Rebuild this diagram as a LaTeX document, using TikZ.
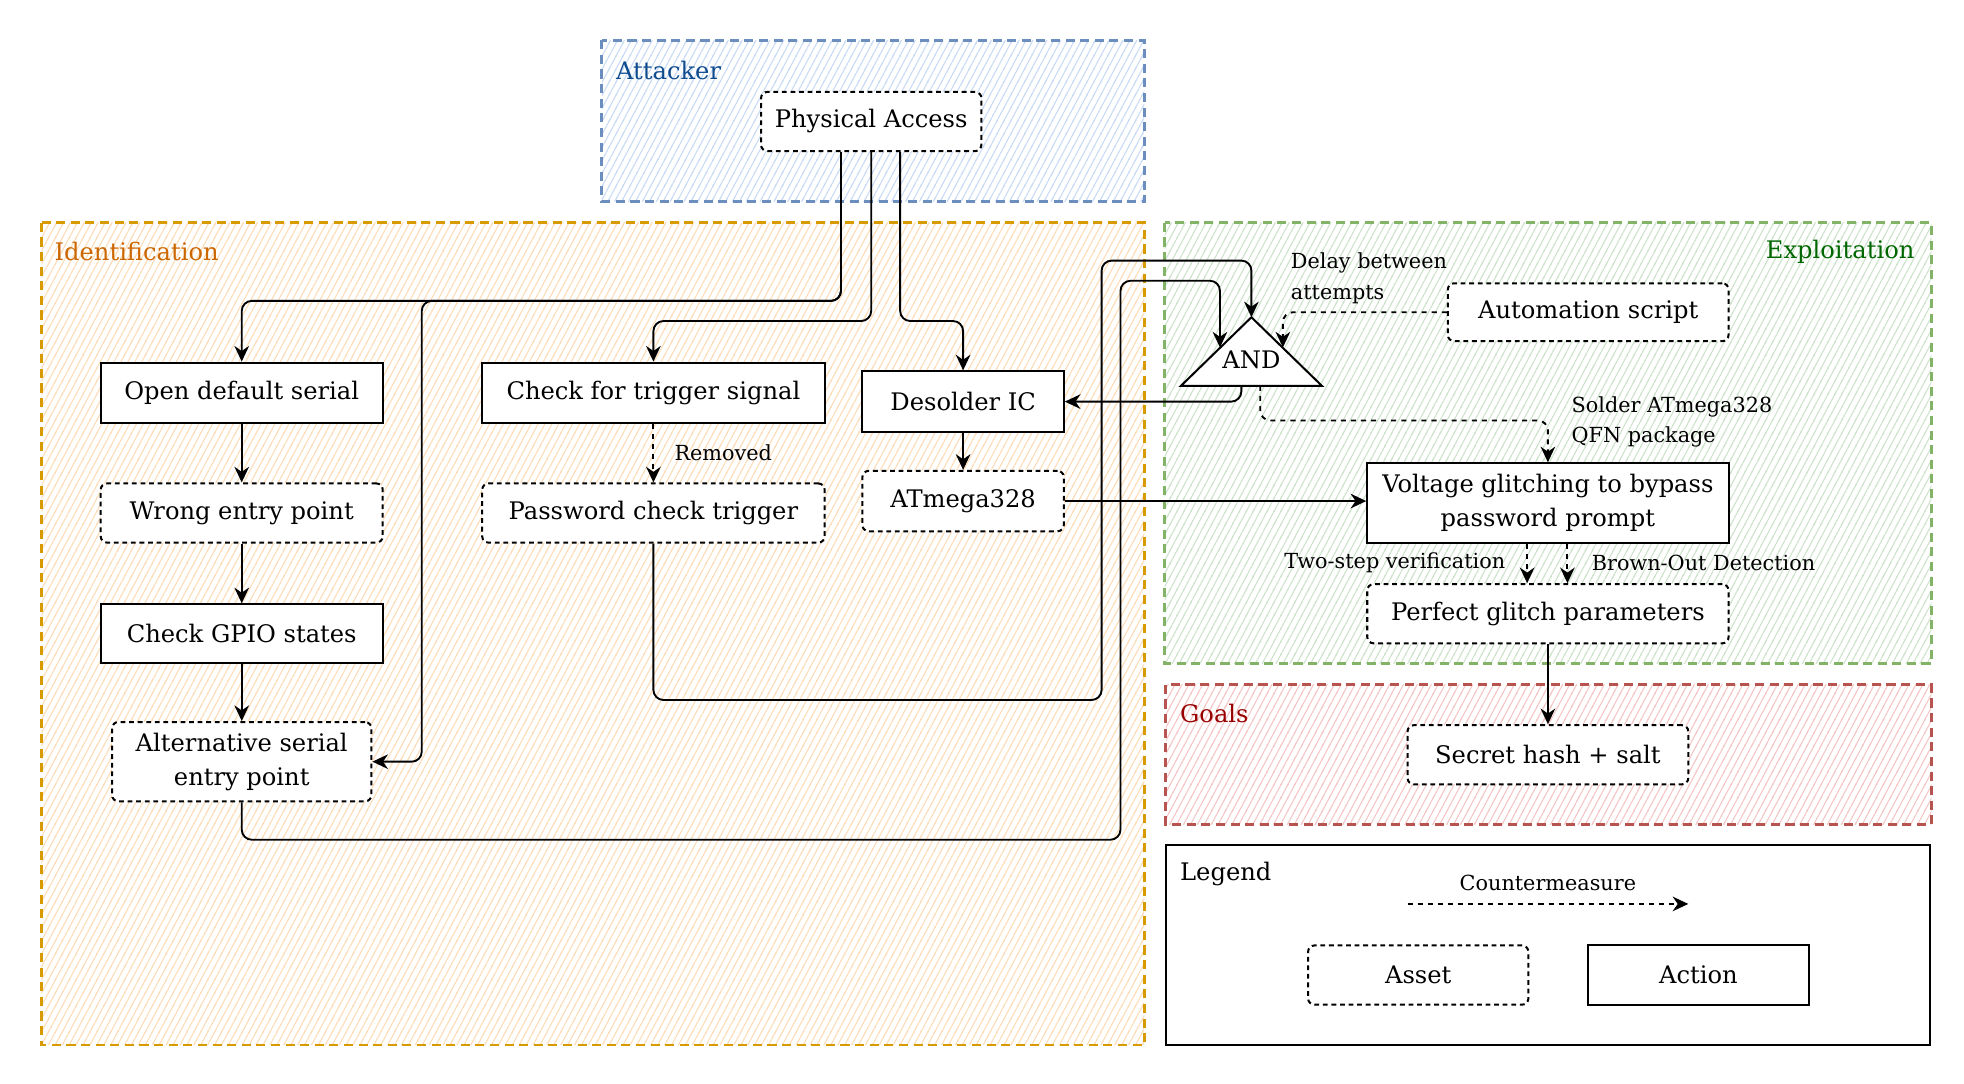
\documentclass[tikz,border=0pt]{standalone}
\usepackage{fontspec}
\setmainfont{DejaVu Serif}
\usetikzlibrary{arrows.meta,patterns.meta}
\newcommand\mainf{\fontsize{9.6pt}{13.5pt}\selectfont}
\newcommand\smallf{\fontsize{8.25pt}{12pt}\selectfont}
\tikzdeclarepattern{
  name=hach,
  type=uncolored,
  bottom left={(-.35pt,-.6pt)},
  top right={(3.1pt,5.8pt)},
  tile size={(2.75pt,5.17pt)},
  code={\draw[line width=.42pt] (-.275pt,-.517pt) -- (3.025pt,5.687pt);}
}
\definecolor{bluS}{HTML}{6C8EBF}\definecolor{bluH}{HTML}{C9DBF5}\definecolor{bluT}{HTML}{0F4C8F}
\definecolor{oraS}{HTML}{D79B00}\definecolor{oraH}{HTML}{FDDCB8}\definecolor{oraT}{HTML}{CC6600}
\definecolor{greS}{HTML}{82B366}\definecolor{greH}{HTML}{CDE3CB}\definecolor{greT}{HTML}{006600}
\definecolor{redS}{HTML}{B85450}\definecolor{redH}{HTML}{F5C6C6}\definecolor{redT}{HTML}{990000}
\tikzset{
  grp/.style={line width=1.1pt, dash pattern=on 3.6pt off 2.2pt},
  action/.style={draw, line width=.8pt, fill=white, align=center, inner sep=0pt, font=\mainf},
  asset/.style={action, dash pattern=on 1.9pt off 1.5pt, rounded corners=2.5pt},
  conn/.style={line width=.75pt, rounded corners=4pt, -{Stealth[length=6.2pt,width=5.8pt,inset=2pt]}},
  cmline/.style={conn, dash pattern=on 2pt off 2pt},
  lbl/.style={font=\smallf, inner sep=0pt},
  glabel/.style={font=\mainf, inner sep=0pt},
}
\begin{document}
\begin{tikzpicture}[x=0.5pt,y=-0.5pt]
\useasboundingbox (0,0) rectangle (1560,861);
% groups
\fill[white] (478,32) rectangle (909,160);
\path[pattern=hach, pattern color=bluH] (478,32) rectangle (909,160);
\draw[grp, bluS] (478,32) rectangle (909,160);
\fill[white] (33,177) rectangle (909,830);
\path[pattern=hach, pattern color=oraH] (33,177) rectangle (909,830);
\draw[grp, oraS] (33,177) rectangle (909,830);
\fill[white] (925,177) rectangle (1534,527);
\path[pattern=hach, pattern color=greH] (925,177) rectangle (1534,527);
\draw[grp, greS] (925,177) rectangle (1534,527);
\fill[white] (926,544) rectangle (1534,655);
\path[pattern=hach, pattern color=redH] (926,544) rectangle (1534,655);
\draw[grp, redS] (926,544) rectangle (1534,655);
\draw[line width=.8pt, fill=white] (926,671) rectangle (1533,830);
\node[glabel, bluT, anchor=west] (gatt) at (489,56) {Attacker};
\node[glabel, oraT, anchor=west] (gide) at (43,200) {Identification};
\node[glabel, greT, anchor=east] (gexp) at (1521,200) {Exploitation};
\node[glabel, redT, anchor=west] (ggoa) at (937,567) {Goals};
\node[glabel, anchor=west] (gleg) at (937,694) {Legend};
% nodes
\node[asset, minimum width=87.5pt, minimum height=23.5pt] (pa) at (692,96.5) {Physical Access};
\node[action, minimum width=112pt, minimum height=24pt] (ods) at (192,312) {Open default serial};
\node[asset, minimum width=112pt, minimum height=23.5pt] (wep) at (192,407.5) {Wrong entry point};
\node[action, minimum width=112pt, minimum height=23.5pt] (gpio) at (192,503.5) {Check GPIO states};
\node[asset, minimum width=103pt, minimum height=31.5pt] (alt) at (192,605) {Alternative serial\\entry point};
\node[action, minimum width=136pt, minimum height=24pt] (cts) at (519,312) {Check for trigger signal};
\node[asset, minimum width=136pt, minimum height=23.5pt] (pct) at (519,407.5) {Password check trigger};
\node[action, minimum width=80pt, minimum height=24pt] (des) at (765,319) {Desolder IC};
\node[asset, minimum width=80pt, minimum height=24pt] (atm) at (765,398) {ATmega328};
\node[asset, minimum width=111.5pt, minimum height=23pt] (auto) at (1261.5,248) {Automation script};
\node[action, minimum width=143.5pt, minimum height=31.5pt] (volt) at (1229.5,399.5) {Voltage glitching to bypass\\password prompt};
\node[asset, minimum width=143.5pt, minimum height=23.5pt] (pgp) at (1229.5,487.5) {Perfect glitch parameters};
\node[asset, minimum width=111.5pt, minimum height=23.5pt] (shs) at (1229.5,599.5) {Secret hash + salt};
\node[asset, minimum width=87.5pt, minimum height=23.5pt] (lasset) at (1126.5,774.5) {Asset};
\node[action, minimum width=88pt, minimum height=23.5pt] (laction) at (1349,774.5) {Action};
% AND gate
\coordinate (andA) at (994,252);
\coordinate (andBL) at (938,306.5);
\coordinate (andBR) at (1050,306.5);
\draw[line width=.8pt, fill=white] (andA) -- (andBL) -- (andBR) -- cycle;
\node[font=\mainf, inner sep=0pt] (andt) at (994,286) {AND};
\coordinate (andin2) at (969,276);
\coordinate (andin3) at (1019,276);
\coordinate (andout1) at (986,306.5);
\coordinate (andout2) at (1001,306.5);
% edges
\draw[conn] ([xshift=-12pt]pa.south) -- (668,239) -- (335,239) |- (alt.east);
\draw[conn] ([xshift=-12pt]pa.south) -- (668,239) -- (192,239) -- (ods.north);
\draw[conn] (pa.south) -- (692,255) -- (519,255) -- (cts.north);
\draw[conn] ([xshift=11.5pt]pa.south) -- (715,255) -- (765,255) -- (des.north);
\draw[conn] (ods) -- (wep);
\draw[conn] (wep) -- (gpio);
\draw[conn] (gpio) -- (alt);
\draw[cmline] (cts) -- node[lbl, right=8pt] (lrem) {Removed} (pct);
\draw[conn] (des) -- (atm);
\draw[conn] (pct.south) -- (519,556) -- (875,556) -- (875,207) -- (994,207) -- (andA);
\draw[conn] (alt.south) -- (192,667) -- (890,667) -- (890,223) -- (969,223) -- (andin2);
\draw[conn] (andout1) |- (des.east);
\draw[cmline] (andout2) -- (1001,334) -- (1229.5,334) -- (volt.north);
\draw[cmline] (auto.west) -| (andin3);
\draw[conn] (atm.east) -- (atm.east -| volt.west);
\draw[cmline] ([xshift=-8.25pt]volt.south) -- ([xshift=-8.25pt]pgp.north);
\draw[cmline] ([xshift=7.75pt]volt.south) -- ([xshift=7.75pt]pgp.north);
\draw[conn] (pgp) -- (shs);
% edge labels
\node[lbl, anchor=west, align=left] (ldelay) at (1025,221) {Delay between\\attempts};
\node[lbl, anchor=west, align=left] (lsold) at (1248,335) {Solder ATmega328\\QFN package};
\node[lbl, anchor=east] (ltwo) at (1196,447) {Two-step verification};
\node[lbl, anchor=west] (lbod) at (1264,447) {Brown-Out Detection};
% legend arrow
\coordinate (lcs) at (1118,718);
\coordinate (lce) at (1341,718);
\draw[cmline] (lcs) -- node[lbl, above=5pt] (lcm) {Countermeasure} (lce);
\end{tikzpicture}
\end{document}
